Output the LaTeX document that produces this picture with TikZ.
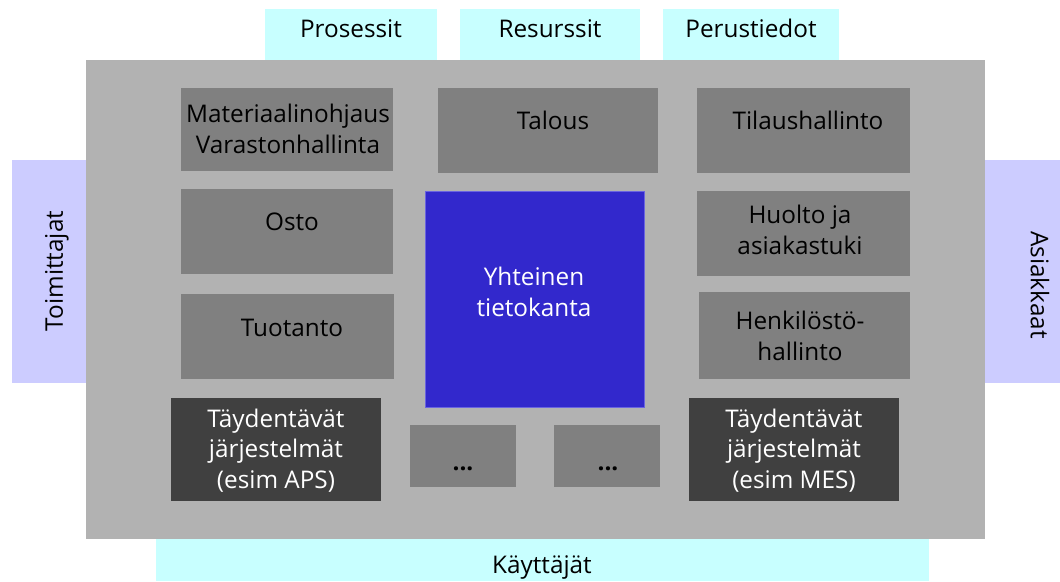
\documentclass[tikz,border=0pt]{standalone}
\usepackage{fontspec}
\setmainfont{Open Sans}
\usetikzlibrary{calc}
\definecolor{cyanbox}{HTML}{C8FFFF}
\definecolor{lavbox}{HTML}{CCCCFF}
\definecolor{mainbg}{HTML}{B2B2B2}
\definecolor{midbox}{HTML}{808080}
\definecolor{darkbox}{HTML}{404040}
\definecolor{bluebox}{HTML}{3228CC}
\definecolor{blueedge}{HTML}{6A64E0}
\begin{document}
\begin{tikzpicture}[x=1pt,y=-1pt,
  area/.style={inner sep=0pt, outer sep=0pt, anchor=north west},
  modbox/.style={area, fill=midbox},
  darkmod/.style={area, fill=darkbox},
  txt/.style={inner sep=0pt, outer sep=0pt, align=center, font=\fontsize{24.3}{30.5}\selectfont, text=black},
  wtxt/.style={txt, text=white}]
\useasboundingbox (0,0) rectangle (1060,581);
% outer frame areas
\node[area, fill=cyanbox, minimum width=172pt, minimum height=51pt] (pros) at (265,9) {};
\node[area, fill=cyanbox, minimum width=180pt, minimum height=51pt] (res) at (460,9) {};
\node[area, fill=cyanbox, minimum width=176pt, minimum height=51pt] (perus) at (663,9) {};
\node[area, fill=lavbox, minimum width=74pt, minimum height=223pt] (toim) at (12,160) {};
\node[area, fill=lavbox, minimum width=75pt, minimum height=223pt] (asiak) at (985,160) {};
\node[area, fill=cyanbox, minimum width=773pt, minimum height=42pt] (kayt) at (156,539) {};
\node[area, fill=mainbg, minimum width=899pt, minimum height=479pt] (main) at (86,60) {};
% modules
\node[modbox, minimum width=212pt, minimum height=83pt] (mat) at (181,88) {};
\node[modbox, minimum width=220pt, minimum height=85pt] (tal) at (438,88) {};
\node[modbox, minimum width=213pt, minimum height=85pt] (tilaus) at (697,88) {};
\node[modbox, minimum width=212pt, minimum height=85pt] (osto) at (181,189) {};
\node[area, fill=bluebox, draw=blueedge, line width=0.8pt, minimum width=219pt, minimum height=216pt] (db) at (425,191) {};
\node[modbox, minimum width=213pt, minimum height=85pt] (huolto) at (697,191) {};
\node[modbox, minimum width=213pt, minimum height=85pt] (tuot) at (181,294) {};
\node[modbox, minimum width=211pt, minimum height=87pt] (henk) at (699,292) {};
\node[darkmod, minimum width=210pt, minimum height=103pt] (aps) at (171,398) {};
\node[modbox, minimum width=106pt, minimum height=62pt] (dots1) at (410,425) {};
\node[modbox, minimum width=106pt, minimum height=62pt] (dots2) at (554,425) {};
\node[darkmod, minimum width=210pt, minimum height=103pt] (mes) at (689,398) {};
% labels (anchor=base is the baseline of the last line)
\node[txt, anchor=base] (tpros) at (351,37.5) {Prosessit};
\node[txt, anchor=base] (tres) at (550,37.5) {Resurssit};
\node[txt, anchor=base] (tperus) at (751,37.5) {Perustiedot};
\node[txt, anchor=base] (tkayt) at (542,573) {Käyttäjät};
\node[txt, rotate=90] (ttoim) at (57,271) {Toimittajat};
\node[txt, rotate=-90] (tasiak) at (1040,285) {Asiakkaat};
\node[txt, anchor=base] (tmat) at (288,153) {Materiaalinohjaus\\Varastonhallinta};
\node[txt, anchor=base] (ttal) at (553,129) {Talous};
\node[txt, anchor=base] (ttil) at (808,129) {Tilaushallinto};
\node[txt, anchor=base] (tosto) at (292,230) {Osto};
\node[wtxt, anchor=base] (tdb) at (534,316) {Yhteinen\\tietokanta};
\node[txt, anchor=base] (thuolto) at (800,254) {Huolto ja\\asiakastuki};
\node[txt, anchor=base] (ttuot) at (292,336) {Tuotanto};
\node[txt, anchor=base] (thenk) at (800,360) {Henkilöstö-\\hallinto};
\node[wtxt, anchor=base] (taps) at (276,488) {Täydentävät\\järjestelmät\\(esim APS)};
\node[txt, anchor=base] (tdots1) at (463,470) {\textbf{...}};
\node[txt, anchor=base] (tdots2) at (608,470) {\textbf{...}};
\node[wtxt, anchor=base] (tmes) at (794,488) {Täydentävät\\järjestelmät\\(esim MES)};
\end{tikzpicture}
\end{document}
